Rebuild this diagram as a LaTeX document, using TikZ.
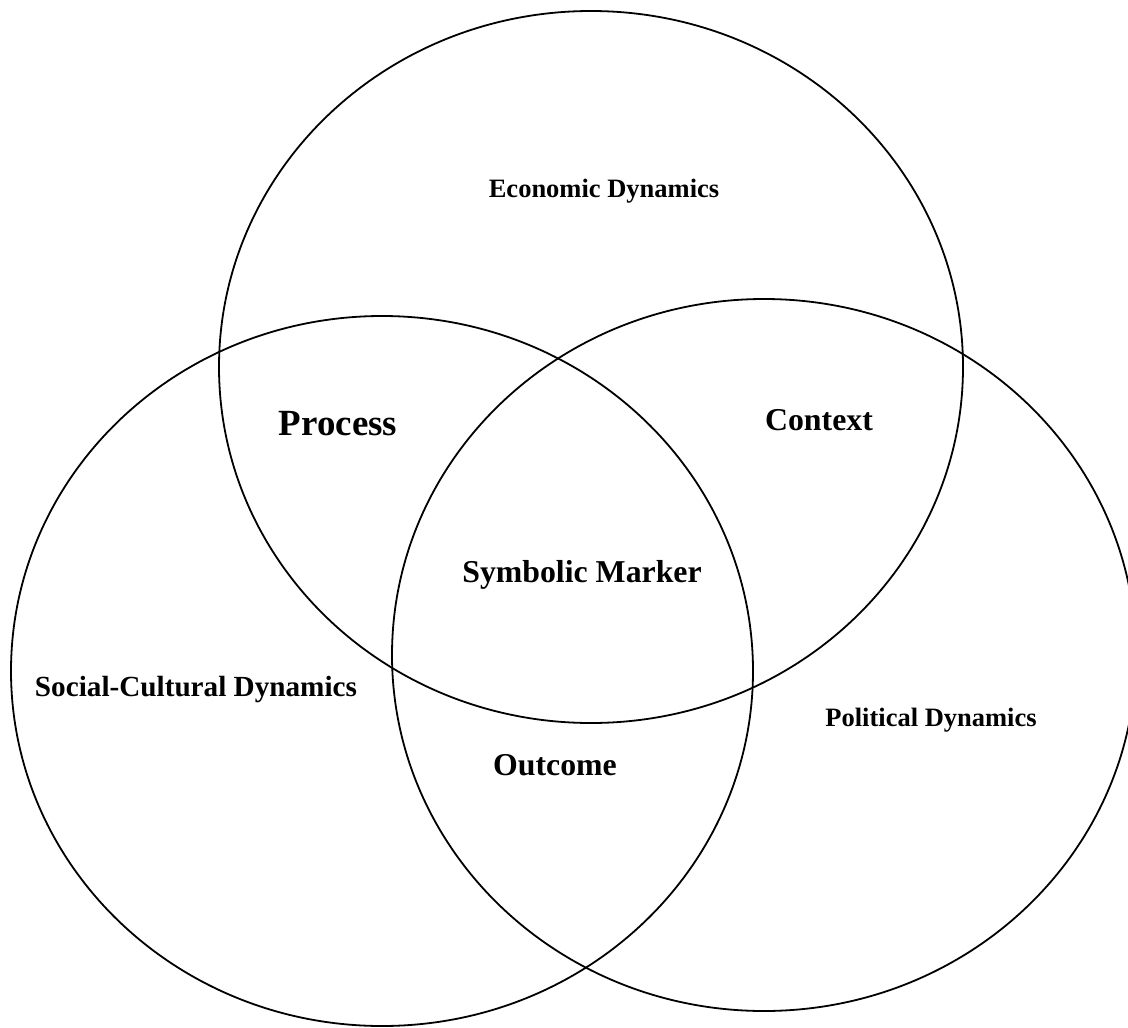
\documentclass[tikz,border=0pt]{standalone}
\usepackage{fontspec}
\setmainfont{Liberation Serif}
\begin{document}
\begin{tikzpicture}[x=1pt,y=-1pt,
  ring/.style={draw=black,line width=1.8pt},
  small/.style={font=\fontsize{26.5}{30}\selectfont\bfseries,inner sep=0pt},
  mid/.style={font=\fontsize{31.8}{36}\selectfont\bfseries,inner sep=0pt},
  big/.style={font=\fontsize{36.9}{42}\selectfont\bfseries,inner sep=0pt}]
\useasboundingbox (0,0) rectangle (1128,1028);
\clip (0,0) rectangle (1128,1028);
\fill[white] (0,0) rectangle (1128,1028);
\draw[ring] (591,367) ellipse [x radius=372, y radius=356];
\draw[ring] (382,671) ellipse [x radius=371, y radius=355];
\draw[ring] (764,655) ellipse [x radius=372, y radius=356];
\node[small] (eco) at (604,191) {Economic Dynamics};
\node[small,font=\fontsize{29.2}{33}\selectfont\bfseries] (soc) at (196,690) {Social-Cultural Dynamics};
\node[small] (pol) at (931,720) {Political Dynamics};
\node[big] (proc) at (338,424) {Process};
\node[mid] (ctx) at (819,420) {Context};
\node[mid] (sym) at (582,575) {Symbolic Marker};
\node[mid] (out) at (555,765) {Outcome};
\end{tikzpicture}
\end{document}
